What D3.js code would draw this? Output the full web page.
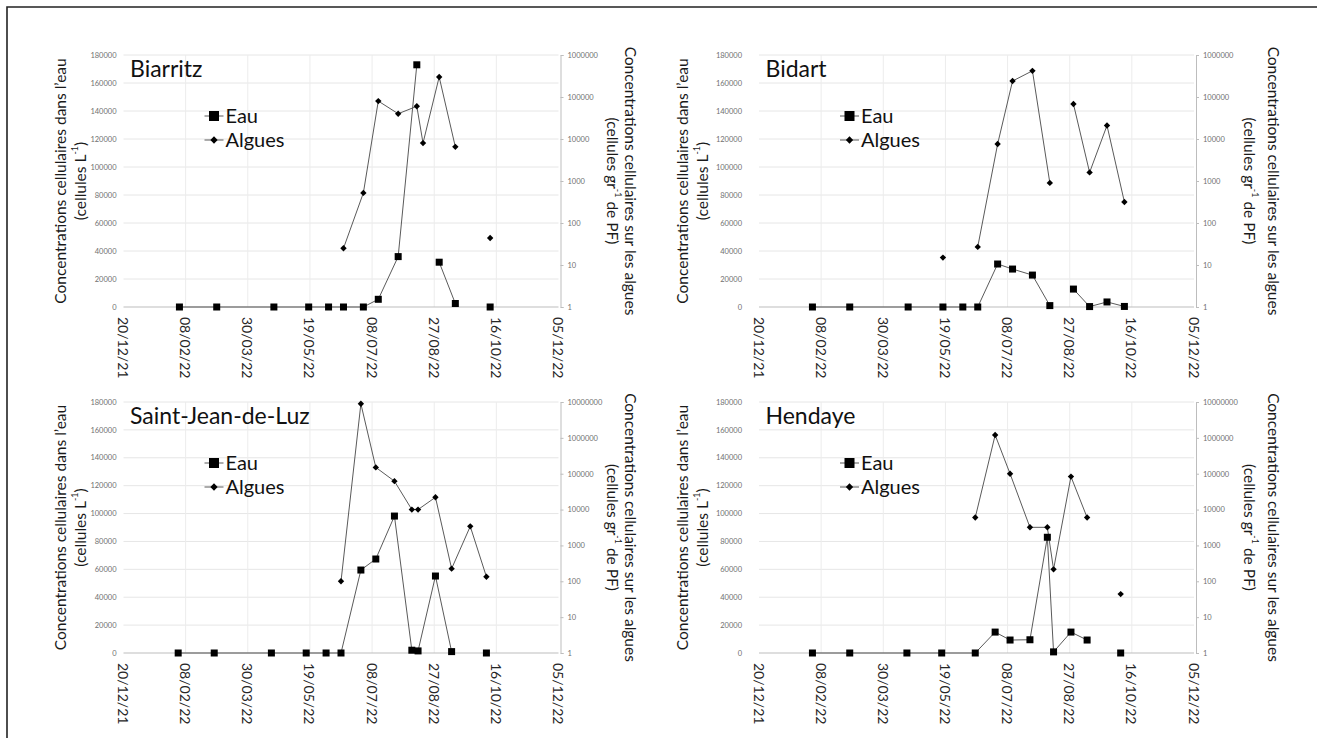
<!DOCTYPE html>
<html lang="fr">
<head>
<meta charset="utf-8">
<script src="https://d3js.org/d3.v7.min.js"></script>
<style>
  body { margin: 0; background: #fff; }
  svg text { font-family: Lato, "Open Sans", sans-serif; }
</style>
</head>
<body>
<script>
var width = 1317, height = 738;

// axis ticks
var dateTicks = ["20/12/21", "08/02/22", "30/03/22", "19/05/22", "08/07/22", "27/08/22", "16/10/22", "05/12/22"];
var eauTicks = [0, 20000, 40000, 60000, 80000, 100000, 120000, 140000, 160000, 180000];

// Biarritz
var biarritzDates  = ["03/02/22", "05/03/22", "20/04/22", "18/05/22", "03/06/22", "15/06/22", "01/07/22", "13/07/22", "29/07/22", "13/08/22", "18/08/22", "31/08/22", "13/09/22", "26/09/22", "11/10/22"];
var biarritzEau    = [0, 0, 0, 0, 0, 0, 0, 5500, 36000, 173000, null, 32000, 2500, null, 0];
var biarritzAlgues = [null, null, null, null, null, 25, 520, 80000, 40000, 60000, 8000, 300000, 6500, null, 44];

// Bidart
var bidartDates  = ["01/02/22", "03/03/22", "19/04/22", "17/05/22", "02/06/22", "14/06/22", "30/06/22", "12/07/22", "28/07/22", "11/08/22", "20/08/22", "30/08/22", "12/09/22", "26/09/22", "10/10/22"];
var bidartEau    = [0, 0, 0, 0, 0, 0, 30700, 27100, 22800, 1000, null, 12800, 300, 3600, 400];
var bidartAlgues = [null, null, null, 15, null, 27, 7600, 240000, 420000, 900, null, 68000, 1600, 21000, 316];

// Saint-Jean-de-Luz
var sjlDates  = ["02/02/22", "03/03/22", "18/04/22", "16/05/22", "01/06/22", "13/06/22", "29/06/22", "11/07/22", "26/07/22", "09/08/22", "14/08/22", "28/08/22", "10/09/22", "25/09/22", "08/10/22"];
var sjlEau    = [0, 0, 0, 0, 0, 0, 59500, 67400, 98200, 2000, 1500, 55200, 1000, null, 0];
var sjlAlgues = [null, null, null, null, null, 100, 8900000, 150000, 62000, 10000, 10000, 22000, 225, 3400, 134];

// Hendaye
var hendayeDates  = ["01/02/22", "03/03/22", "18/04/22", "16/05/22", "12/06/22", "28/06/22", "10/07/22", "26/07/22", "09/08/22", "14/08/22", "28/08/22", "10/09/22", "25/09/22", "07/10/22"];
var hendayeEau    = [0, 0, 0, 0, 0, 15000, 9300, 9500, 83000, 800, 15000, 9300, null, 0];
var hendayeAlgues = [null, null, null, null, 6000, 1200000, 100000, 3200, 3200, 215, 83000, 6000, null, 44];

var parseDate = d3.timeParse("%d/%m/%y");

var panels = [
  { name: "Biarritz", dates: biarritzDates, eau: biarritzEau, algues: biarritzAlgues, logMax: 1e6, col: 0, row: 0 },
  { name: "Bidart", dates: bidartDates, eau: bidartEau, algues: bidartAlgues, logMax: 1e6, col: 1, row: 0 },
  { name: "Saint-Jean-de-Luz", dates: sjlDates, eau: sjlEau, algues: sjlAlgues, logMax: 1e7, col: 0, row: 1 },
  { name: "Hendaye", dates: hendayeDates, eau: hendayeEau, algues: hendayeAlgues, logMax: 1e7, col: 1, row: 1 }
];

// layout of the two columns / rows
var cols = [
  { x0: 123.5, labelGap: 7, lt1: -64, lt2: -44, rt1: 72, rt2: 54 },
  { x0: 759, labelGap: 17, lt1: -77, lt2: -57, rt1: 80, rt2: 56 }
];
var rows = [ { y0: 55, h: 252 }, { y0: 402, h: 251 } ];
var plotW = 435;

var svg = d3.select("body").append("svg")
  .attr("width", width)
  .attr("height", height);

// outer frame (top and left edges)
svg.append("path")
  .attr("d", "M7," + height + "V7H" + width)
  .attr("fill", "none")
  .attr("stroke", "#222")
  .attr("stroke-width", 1.6);

var tickDates = dateTicks.map(parseDate);

panels.forEach(function (p) {
  var c = cols[p.col], r = rows[p.row];
  var x0 = c.x0, x1 = c.x0 + plotW, y0 = r.y0, y1 = r.y0 + r.h;

  var x = d3.scaleTime().domain([tickDates[0], tickDates[tickDates.length - 1]]).range([x0, x1]);
  var y = d3.scaleLinear().domain([0, 180000]).range([y1, y0]);
  var yLog = d3.scaleLog().domain([1, p.logMax]).range([y1, y0]);

  var g = svg.append("g");

  // gridlines
  g.append("g").selectAll("line.h")
    .data(eauTicks.slice(1))
    .join("line")
    .attr("x1", x0).attr("x2", x1)
    .attr("y1", function (d) { return y(d); })
    .attr("y2", function (d) { return y(d); })
    .attr("stroke", "#e6e6e6").attr("stroke-width", 1);
  g.append("g").selectAll("line.v")
    .data(tickDates.slice(1, -1))
    .join("line")
    .attr("x1", function (d) { return x(d); })
    .attr("x2", function (d) { return x(d); })
    .attr("y1", y0).attr("y2", y1)
    .attr("stroke", "#ececec").attr("stroke-width", 1);

  // left axis labels (no line)
  g.append("g").selectAll("text")
    .data(eauTicks)
    .join("text")
    .attr("x", x0 - c.labelGap)
    .attr("y", function (d) { return y(d); })
    .attr("dy", "0.35em")
    .attr("text-anchor", "end")
    .attr("font-size", 7.5)
    .attr("fill", "#707070")
    .text(d3.format("d"));

  // bottom axis
  g.append("line")
    .attr("x1", x0).attr("x2", x1)
    .attr("y1", y1).attr("y2", y1)
    .attr("stroke", "#bdbdbd");
  g.append("g").selectAll("text")
    .data(tickDates)
    .join("text")
    .attr("transform", function (d) { return "translate(" + x(d) + "," + (y1 + 10) + ") rotate(90)"; })
    .attr("dominant-baseline", "central")
    .attr("font-size", 14)
    .attr("fill", "#262626")
    .text(d3.timeFormat("%d/%m/%y"));

  // right log axis
  var xr = x1 + 2;
  var rAxis = d3.axisRight(yLog)
    .tickValues(d3.range(0, Math.round(Math.log10(p.logMax)) + 1).map(function (e) { return Math.pow(10, e); }))
    .tickFormat(d3.format("d"))
    .tickSize(3)
    .tickPadding(4);
  var ra = g.append("g").attr("transform", "translate(" + xr + ",0)").call(rAxis);
  ra.select(".domain").attr("stroke", "#bdbdbd");
  ra.selectAll(".tick line").attr("stroke", "#bdbdbd");
  ra.selectAll(".tick text").attr("font-size", 7.5).attr("fill", "#707070")
    .style("font-family", "Lato, sans-serif");

  // axis titles
  var midY = (y0 + y1) / 2;
  var lt = g.append("g").attr("font-size", 15.5).attr("fill", "#1a1a1a");
  lt.append("text")
    .attr("transform", "translate(" + (x0 + c.lt1) + "," + midY + ") rotate(-90)")
    .attr("text-anchor", "middle").attr("dominant-baseline", "central")
    .text("Concentrations cellulaires dans l\u2019eau");
  var lt2 = lt.append("text")
    .attr("transform", "translate(" + (x0 + c.lt2) + "," + midY + ") rotate(-90)")
    .attr("text-anchor", "middle").attr("dominant-baseline", "central");
  lt2.append("tspan").text("(cellules L");
  lt2.append("tspan").attr("font-size", 9).attr("dy", -6).text("-1");
  lt2.append("tspan").attr("dy", 6).text(")");

  lt.append("text")
    .attr("transform", "translate(" + (x1 + c.rt1) + "," + midY + ") rotate(90)")
    .attr("text-anchor", "middle").attr("dominant-baseline", "central")
    .text("Concentrations cellulaires sur les algues");
  var rt2 = lt.append("text")
    .attr("transform", "translate(" + (x1 + c.rt2) + "," + midY + ") rotate(90)")
    .attr("text-anchor", "middle").attr("dominant-baseline", "central");
  rt2.append("tspan").text("(cellules gr");
  rt2.append("tspan").attr("font-size", 9).attr("dy", -6).text("-1");
  rt2.append("tspan").attr("dy", 6).text(" de PF)");

  // series
  var rowsData = p.dates.map(function (d, i) {
    return { date: parseDate(d), eau: p.eau[i], algues: p.algues[i] };
  });

  var lineEau = d3.line()
    .defined(function (d) { return d.eau != null; })
    .x(function (d) { return x(d.date); })
    .y(function (d) { return y(d.eau); });
  var lineAlg = d3.line()
    .defined(function (d) { return d.algues != null; })
    .x(function (d) { return x(d.date); })
    .y(function (d) { return yLog(d.algues); });

  g.append("path").attr("d", lineEau(rowsData))
    .attr("fill", "none").attr("stroke", "#5a5a5a").attr("stroke-width", 1);
  g.append("path").attr("d", lineAlg(rowsData))
    .attr("fill", "none").attr("stroke", "#5a5a5a").attr("stroke-width", 1);

  g.append("g").selectAll("rect")
    .data(rowsData.filter(function (d) { return d.eau != null; }))
    .join("rect")
    .attr("x", function (d) { return x(d.date) - 3.5; })
    .attr("y", function (d) { return y(d.eau) - 3.5; })
    .attr("width", 7).attr("height", 7)
    .attr("fill", "#000");

  var diamond = d3.symbol().type(d3.symbolDiamond2).size(26);
  g.append("g").selectAll("path")
    .data(rowsData.filter(function (d) { return d.algues != null; }))
    .join("path")
    .attr("transform", function (d) { return "translate(" + x(d.date) + "," + yLog(d.algues) + ")"; })
    .attr("d", diamond)
    .attr("fill", "#000");

  // panel title
  g.append("text")
    .attr("x", x0 + 6.5)
    .attr("y", y0 + 22)
    .attr("font-size", 23)
    .attr("fill", "#111")
    .text(p.name);

  // legend
  var lg = g.append("g").attr("transform", "translate(" + (x0 + 81) + "," + (y0 + 61) + ")");
  [["Eau", "sq"], ["Algues", "di"]].forEach(function (it, i) {
    var yy = i * 24;
    lg.append("line").attr("x1", 0).attr("x2", 19).attr("y1", yy).attr("y2", yy)
      .attr("stroke", "#5a5a5a").attr("stroke-width", 1);
    if (it[1] === "sq") {
      lg.append("rect").attr("x", 4.5).attr("y", yy - 5).attr("width", 10).attr("height", 10).attr("fill", "#000");
    } else {
      lg.append("path").attr("transform", "translate(9.5," + yy + ")")
        .attr("d", d3.symbol().type(d3.symbolDiamond2).size(34)).attr("fill", "#000");
    }
    lg.append("text").attr("x", 21).attr("y", yy).attr("dy", "0.35em")
      .attr("font-size", 20).attr("fill", "#111").text(it[0]);
  });
});
</script>
</body>
</html>
